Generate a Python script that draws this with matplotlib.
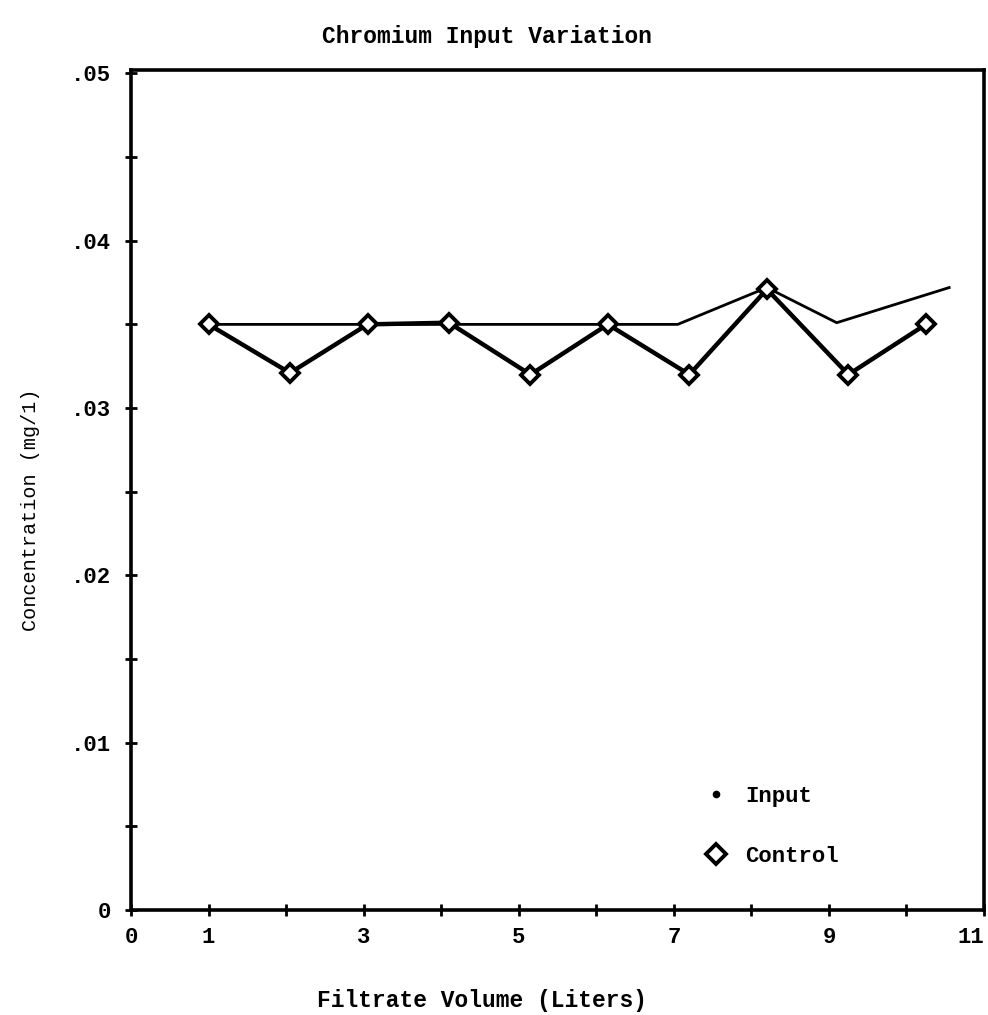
import matplotlib
matplotlib.use("Agg")
import matplotlib.pyplot as plt
from matplotlib.lines import Line2D
from matplotlib.ticker import FixedLocator

# ---- data ----
control_x = [1.0, 2.05, 3.05, 4.1, 5.15, 6.15, 7.2, 8.2, 9.25, 10.25]
control_y = [0.0350, 0.0321, 0.0350, 0.0351, 0.0320, 0.0350, 0.0320, 0.0371, 0.0320, 0.0350]

input_x = [1.0, 7.05, 8.2, 9.1, 10.55]
input_y = [0.0350, 0.0350, 0.0372, 0.0351, 0.0372]

x_major = [0, 1, 3, 5, 7, 9, 11]
x_labels = ["0", "1", "3", "5", "7", "9", "11"]
x_minor = [2, 4, 6, 8, 10]
y_major = [0.0, 0.01, 0.02, 0.03, 0.04, 0.05]
y_labels = ["0", ".01", ".02", ".03", ".04", ".05"]
y_minor = [0.005, 0.015, 0.025, 0.035, 0.045]

title = "Chromium Input Variation"
xlabel = "Filtrate Volume (Liters)"
ylabel = "Concentration (mg/1)"
legend_labels = ["Input", "Control"]

FONT = ["Liberation Mono", "DejaVu Sans Mono"]
plt.rcParams["font.family"] = FONT

fig = plt.figure(figsize=(9.88, 10.15), dpi=100)
ax = fig.add_axes([0.1326, 0.1034, 0.8634, 0.8276])

ax.plot(input_x, input_y, color="black", lw=2.0, zorder=2)
ax.plot(control_x, control_y, color="black", lw=3.2, marker="D", ms=9.5,
        mfc="white", mec="black", mew=2.8, zorder=3)

ax.set_xlim(0, 11)
ax.set_ylim(0, 0.0502)

ax.xaxis.set_major_locator(FixedLocator(x_major))
ax.xaxis.set_minor_locator(FixedLocator(x_minor))
ax.set_xticklabels(x_labels)
ax.yaxis.set_major_locator(FixedLocator(y_major))
ax.yaxis.set_minor_locator(FixedLocator(y_minor))
ax.set_yticklabels(y_labels)

ax.tick_params(axis="both", which="both", direction="inout", length=9, width=2,
               colors="black")
ax.tick_params(axis="x", which="major", labelsize=16, pad=8)
ax.tick_params(axis="y", which="major", labelsize=16, pad=10)
for lab in ax.get_xticklabels() + ax.get_yticklabels():
    lab.set_fontweight("bold")
xt = ax.get_xticklabels()
xt[-1].set_horizontalalignment("right")
xt[-1].set_x(11)

for s in ax.spines.values():
    s.set_linewidth(2.6)
    s.set_color("black")

fig.text(487 / 988, 1 - 36 / 1015, title, ha="center", va="center",
         fontsize=16.5, fontweight="bold", family=FONT)
fig.text(482 / 988, 1 - 1001 / 1015, xlabel, ha="center", va="center",
         fontsize=16.5, fontweight="bold", family=FONT)
fig.text(30 / 988, 1 - 510 / 1015, ylabel, ha="center", va="center",
         rotation=90, fontsize=14.5, family=FONT)

handles = [
    Line2D([], [], ls="none", marker="o", ms=4.5, color="black"),
    Line2D([], [], ls="none", marker="D", ms=10, mfc="white", mec="black", mew=2.8),
]
leg = ax.legend(handles, legend_labels, loc="upper left",
                bbox_to_anchor=(705 / 988, 1 - 786 / 1015),
                bbox_transform=fig.transFigure, frameon=False,
                borderpad=0, borderaxespad=0,
                prop={"family": FONT, "size": 16, "weight": "bold"},
                handlelength=1.0, handletextpad=0.8, labelspacing=1.75)

fig.savefig("out.png", dpi=100, facecolor="white")
